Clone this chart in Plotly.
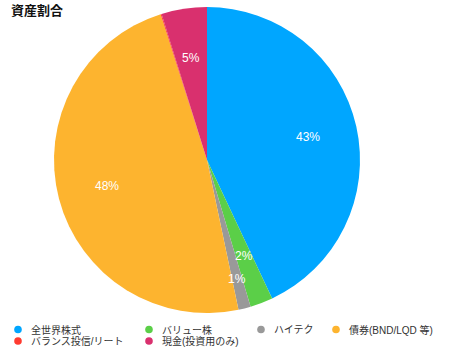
import math
import plotly.graph_objects as go

# ---- data ----
labels = ["全世界株式", "バリュー株", "ハイテク", "債券(BND/LQD 等)", "バランス投信/リート", "現金(投資用のみ)"]
values = [43.0, 2.4, 1.3, 48.4, 0.1, 4.8]
colors = ["#00A6FF", "#5BCF48", "#999999", "#FDB42F", "#FF3B30", "#D9306E"]
# slice order around the pie (clockwise from 12 o'clock)
pie_order = [0, 1, 2, 3, 4, 5]
title_text = "資産割合"

W, H = 450, 351
cx, cy, R = 207.0, 160.0, 153.0
FONT = "Liberation Sans, Arial, Noto Sans CJK JP, sans-serif"

fig = go.Figure()
fig.add_trace(go.Pie(
    labels=[labels[i] for i in pie_order],
    values=[values[i] for i in pie_order],
    marker=dict(colors=[colors[i] for i in pie_order], line=dict(width=0)),
    sort=False,
    direction="clockwise",
    rotation=0,
    textinfo="none",
    showlegend=False,
    domain=dict(x=[(cx - R) / W, (cx + R) / W], y=[1 - (cy + R) / H, 1 - (cy - R) / H]),
))

annotations = []
# percentage labels computed from the values
total = sum(values)
cum = 0.0
label_radius = {2: 0.80}
for i in pie_order:
    v = values[i]
    mid = (cum + v / 2) / total * 2 * math.pi
    cum += v
    pct = round(v / total * 100)
    if pct < 1:
        continue
    f = label_radius.get(i, 0.675)
    px = cx + R * f * math.sin(mid)
    py = cy - R * f * math.cos(mid)
    annotations.append(dict(
        x=px / W, y=1 - py / H, xref="paper", yref="paper",
        text=f"{pct}%", showarrow=False,
        font=dict(family=FONT, size=12, color="white"),
        xanchor="center", yanchor="middle",
    ))

# title
annotations.append(dict(
    x=9 / W, y=1 - 10 / H, xref="paper", yref="paper", text=f"<b>{title_text}</b>",
    showarrow=False, xanchor="left", yanchor="middle",
    font=dict(family="Noto Sans CJK JP, sans-serif", size=13, color="#111111"),
))

# legend (manual, column-aligned)
col_x = [18, 149, 261, 336]
row_y = [329.5, 341]
shapes = []
for i, lab in enumerate(labels):
    c, r = i % 4, i // 4
    mx, my = col_x[c], row_y[r]
    shapes.append(dict(
        type="circle", xref="paper", yref="paper", xsizemode="pixel", ysizemode="pixel",
        xanchor=mx / W, yanchor=1 - my / H, x0=-3.8, x1=3.8, y0=-3.8, y1=3.8,
        fillcolor=colors[i], line=dict(width=0),
    ))
    annotations.append(dict(
        x=(mx + 11) / W, y=1 - my / H, xref="paper", yref="paper", text=lab,
        showarrow=False, xanchor="left", yanchor="middle",
        font=dict(family=FONT, size=10, color="#333333"),
    ))

fig.update_layout(
    width=W, height=H,
    margin=dict(l=0, r=0, t=0, b=0),
    paper_bgcolor="white", plot_bgcolor="white",
    annotations=annotations, shapes=shapes,
    showlegend=False,
)
fig.write_html("out.html")
